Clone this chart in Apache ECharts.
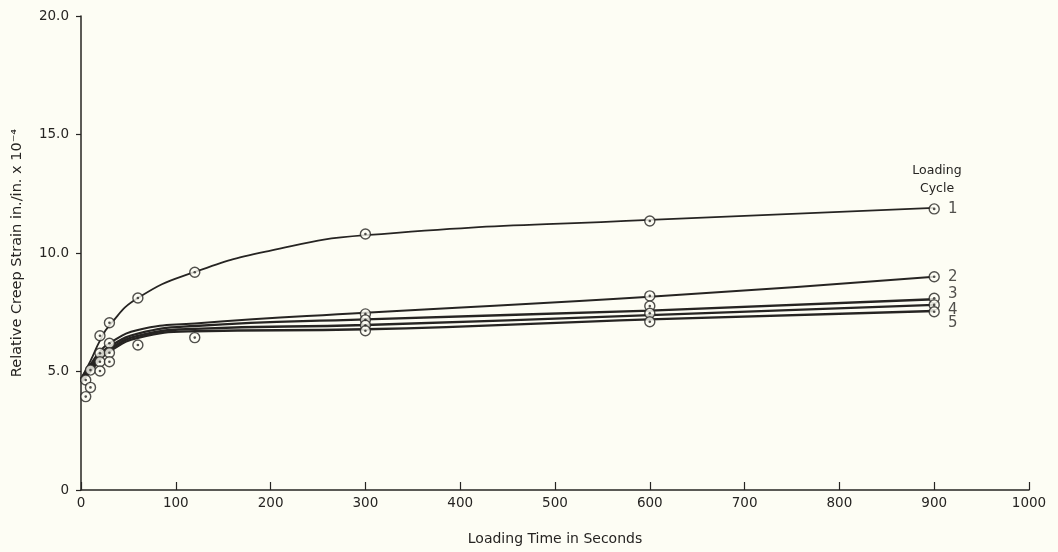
<!DOCTYPE html>
<html>
<head>
<meta charset="utf-8">
<script src="https://cdn.jsdelivr.net/npm/echarts@6/dist/echarts.min.js"></script>
<style>
  html, body { margin: 0; padding: 0; background: #fdfdf4; }
  #chart { width: 1058px; height: 552px; }
</style>
</head>
<body>
<div id="chart"></div>
<script>
// Loading cycles and their faired curves (time s, strain x 10^-4)
const cycleNames = ['1', '2', '3', '4', '5'];

const curve1 = [[0,4.7],[10,5.45],[20,6.3],[30,6.95],[60,8.1],[120,9.2],[200,10.1],[300,10.75],[600,11.4],[900,11.9]];
const curve2 = [[0,4.7],[10,5.3],[20,5.85],[30,6.2],[60,6.75],[120,7.03],[300,7.48],[600,8.15],[900,9.0]];
const curve3 = [[0,4.65],[10,5.2],[20,5.7],[30,6.05],[60,6.6],[120,6.92],[300,7.2],[600,7.57],[900,8.05]];
const curve4 = [[0,4.6],[10,5.1],[20,5.6],[30,5.95],[60,6.5],[120,6.8],[300,6.96],[600,7.38],[900,7.81]];
const curve5 = [[0,4.55],[10,5.0],[20,5.5],[30,5.85],[60,6.42],[120,6.7],[300,6.78],[600,7.2],[900,7.55]];

// Measured readings for each loading cycle
const obs1 = [[5,4.64],[10,5.06],[20,6.51],[30,7.06],[60,8.1],[120,9.19],[300,10.8],[600,11.35],[900,11.86]];
const obs2 = [[10,4.33],[20,5.77],[30,6.19],[300,7.43],[600,8.19],[900,9.0]];
const obs3 = [[5,3.94],[20,5.41],[30,5.79],[300,7.18],[600,7.76],[900,8.09]];
const obs4 = [[20,5.02],[30,5.41],[300,6.95],[600,7.46],[900,7.81]];
const obs5 = [[60,6.12],[120,6.43],[300,6.72],[600,7.1],[900,7.52]];

// Axis ticks
const xTicks = [0,100,200,300,400,500,600,700,800,900,1000];
const yTickLabels = { 0: '0', 5: '5.0', 10: '10.0', 15: '15.0', 20: '20.0' };

const curves = [curve1, curve2, curve3, curve4, curve5];
const observations = [obs1, obs2, obs3, obs4, obs5];
const curveWidths = [1.8, 2.0, 2.4, 2.4, 2.4];
const labelShift = [0, 0, -4, 5, 11];

const ink = '#262422';
const paper = '#fdfdf4';
const font = 'DejaVu Sans';

const series = [];
curves.forEach((c, i) => {
  series.push({
    type: 'line',
    name: 'curve' + cycleNames[i],
    data: c,
    smooth: 0.5,
    showSymbol: false,
    lineStyle: { color: ink, width: curveWidths[i] },
    z: 2,
    silent: true
  });
});
observations.forEach((o, i) => {
  const last = o.length - 1;
  series.push({
    type: 'scatter',
    name: 'cycle' + cycleNames[i],
    data: o.map((p, k) => k === last ? {
      value: p,
      label: {
        show: true,
        formatter: cycleNames[i],
        position: 'right',
        distance: 8,
        offset: [0, labelShift[i]],
        color: ink,
        fontFamily: font,
        fontSize: 15
      }
    } : p),
    symbol: 'circle',
    symbolSize: 10,
    itemStyle: { color: paper, borderColor: ink, borderWidth: 1.4 },
    z: 3
  });
  series.push({
    type: 'scatter',
    name: 'dot' + cycleNames[i],
    data: o,
    symbol: 'circle',
    symbolSize: 2.6,
    itemStyle: { color: ink },
    z: 4,
    silent: true
  });
});

const chart = echarts.init(document.getElementById('chart'), null, { renderer: 'canvas' });
chart.setOption({
  backgroundColor: paper,
  animation: false,
  title: {
    text: 'Loading\nCycle',
    left: 932,
    top: 157,
    textAlign: 'center',
    textStyle: { fontFamily: font, fontSize: 12.5, fontWeight: 'normal', color: ink, lineHeight: 18 }
  },
  grid: { left: 81, right: 29, top: 16, bottom: 62, containLabel: false },
  xAxis: {
    type: 'value',
    min: xTicks[0],
    max: xTicks[xTicks.length - 1],
    interval: 100,
    name: 'Loading Time in Seconds',
    nameLocation: 'middle',
    nameGap: 42,
    nameTextStyle: { fontFamily: font, fontSize: 14, color: ink },
    axisLine: { lineStyle: { color: ink, width: 1.5 } },
    axisTick: { inside: true, length: 8, lineStyle: { color: ink, width: 1.2 } },
    axisLabel: { fontFamily: font, fontSize: 13.5, color: ink, margin: 6, formatter: v => String(v) },
    splitLine: { show: false }
  },
  yAxis: {
    type: 'value',
    min: 0,
    max: 20,
    interval: 5,
    name: 'Relative Creep Strain in./in. x 10\u207B\u2074',
    nameLocation: 'middle',
    nameGap: 56,
    nameRotate: 90,
    nameTextStyle: { fontFamily: font, fontSize: 14.5, color: ink },
    axisLine: { show: true, lineStyle: { color: ink, width: 1.5 } },
    axisTick: { show: true, length: 5, lineStyle: { color: ink, width: 1.2 } },
    axisLabel: {
      fontFamily: font, fontSize: 13.5, color: ink, margin: 12,
      formatter: v => yTickLabels[v] !== undefined ? yTickLabels[v] : ''
    },
    splitLine: { show: false }
  },
  series: series
});
</script>
</body>
</html>
